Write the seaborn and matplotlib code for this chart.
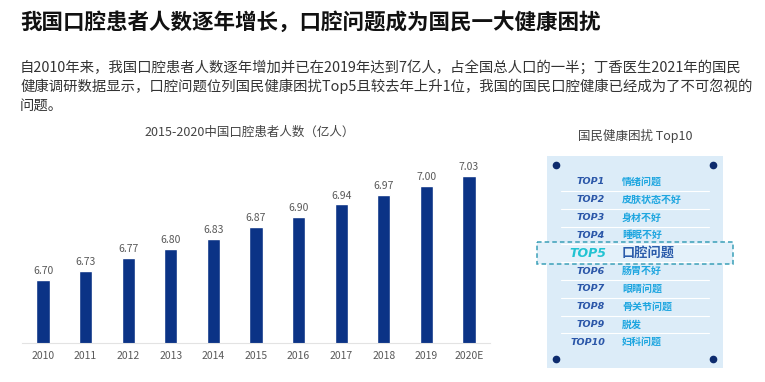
import matplotlib
matplotlib.use("Agg")
import matplotlib.pyplot as plt
import seaborn as sns
from matplotlib.patches import Rectangle

years = ["2010", "2011", "2012", "2013", "2014", "2015", "2016", "2017", "2018", "2019", "2020E"]
patients = [6.70, 6.73, 6.77, 6.80, 6.83, 6.87, 6.90, 6.94, 6.97, 7.00, 7.03]

ranks = ["TOP1", "TOP2", "TOP3", "TOP4", "TOP5", "TOP6", "TOP7", "TOP8", "TOP9", "TOP10"]
issues = ["情绪问题", "皮肤状态不好", "身材不好", "睡眠不好", "口腔问题",
          "肠胃不好", "眼睛问题", "骨关节问题", "脱发", "妇科问题"]
highlight = "TOP5"

title = "我国口腔患者人数逐年增长，口腔问题成为国民一大健康困扰"
body = ["自2010年来，我国口腔患者人数逐年增加并已在2019年达到7亿人，占全国总人口的一半；丁香医生2021年的国民",
        "健康调研数据显示，口腔问题位列国民健康困扰Top5且较去年上升1位，我国的国民口腔健康已经成为了不可忽视的",
        "问题。"]
chart_title = "2015-2020中国口腔患者人数（亿人）"
panel_title = "国民健康困扰 Top10"

sns.set_style("white")
plt.rcParams["font.family"] = ["Noto Sans CJK SC", "DejaVu Sans"]

fig = plt.figure(figsize=(7.65, 3.82), dpi=100)
W, H = 765, 382

# header
fig.text(20 / W, 1 - 22 / H, title, fontsize=15.5, fontweight="bold", color="#111111", va="center")
for i, line in enumerate(body):
    fig.text(20 / W, 1 - (67 + i * 19.5) / H, line, fontsize=10.35, color="#333333", va="center")

# bar chart
ax = fig.add_axes([21.7 / W, 1 - 343 / H, 468.6 / W, 193 / H])
sns.barplot(x=years, y=patients, color="#0b3386", width=0.31, ax=ax, saturation=1)
ax.set_ylim(6.5, 7.113)
ax.set_xlim(-0.5, len(years) - 0.5)
for i, v in enumerate(patients):
    ax.text(i, v + 0.012, f"{v:.2f}", ha="center", va="bottom", fontsize=7.5, color="#595959")
ax.set_yticks([])
ax.set_xlabel("")
ax.set_ylabel("")
ax.tick_params(axis="x", length=0, labelsize=7.5, labelcolor="#595959", pad=6)
sns.despine(ax=ax, left=True)
ax.spines["bottom"].set_color("#e3e3e3")
fig.text(250 / W, 1 - 132 / H, chart_title, fontsize=9, color="#444444", ha="center", va="center")

# top10 panel
fig.text(635 / W, 1 - 136 / H, panel_title, fontsize=9, color="#444444", ha="center", va="center")
px = fig.add_axes([547 / W, 1 - 368 / H, 176 / W, 212 / H])
px.set_facecolor("#dcecf8")
px.set_xlim(0, 176)
px.set_ylim(212, 0)
px.set_xticks([])
px.set_yticks([])
for s in px.spines.values():
    s.set_visible(False)

row0, step = 26, 17.8
for cx in (9, 166):
    for cy in (9, 203):
        px.plot(cx, cy, "o", color="#0d2b6e", markersize=4.5)
for i, (r, t) in enumerate(zip(ranks, issues)):
    y = row0 + i * step
    if i < len(ranks) - 1:
        px.plot([14, 162], [y + step / 2, y + step / 2], color="white", lw=0.8)
    if r == highlight:
        px.add_patch(Rectangle((-10, y - 11), 196, 22, fill=True, facecolor="#e4f1fa",
                               edgecolor="#3aa0b8", linestyle=(0, (3, 2)), lw=1.1, clip_on=False))
        px.text(59, y, r, ha="right", va="center", fontsize=9, fontweight="bold",
                style="italic", color="#22c3d2", family="DejaVu Sans")
        px.text(75, y, t, ha="left", va="center", fontsize=9.5, fontweight="bold", color="#2b5cab")
    else:
        px.text(58, y, r, ha="right", va="center", fontsize=6.8, fontweight="bold",
                style="italic", color="#2a56a8", family="DejaVu Sans")
        px.text(75, y, t, ha="left", va="center", fontsize=7.2, fontweight="bold", color="#1ea6e0")

fig.savefig("out.png", dpi=100)
